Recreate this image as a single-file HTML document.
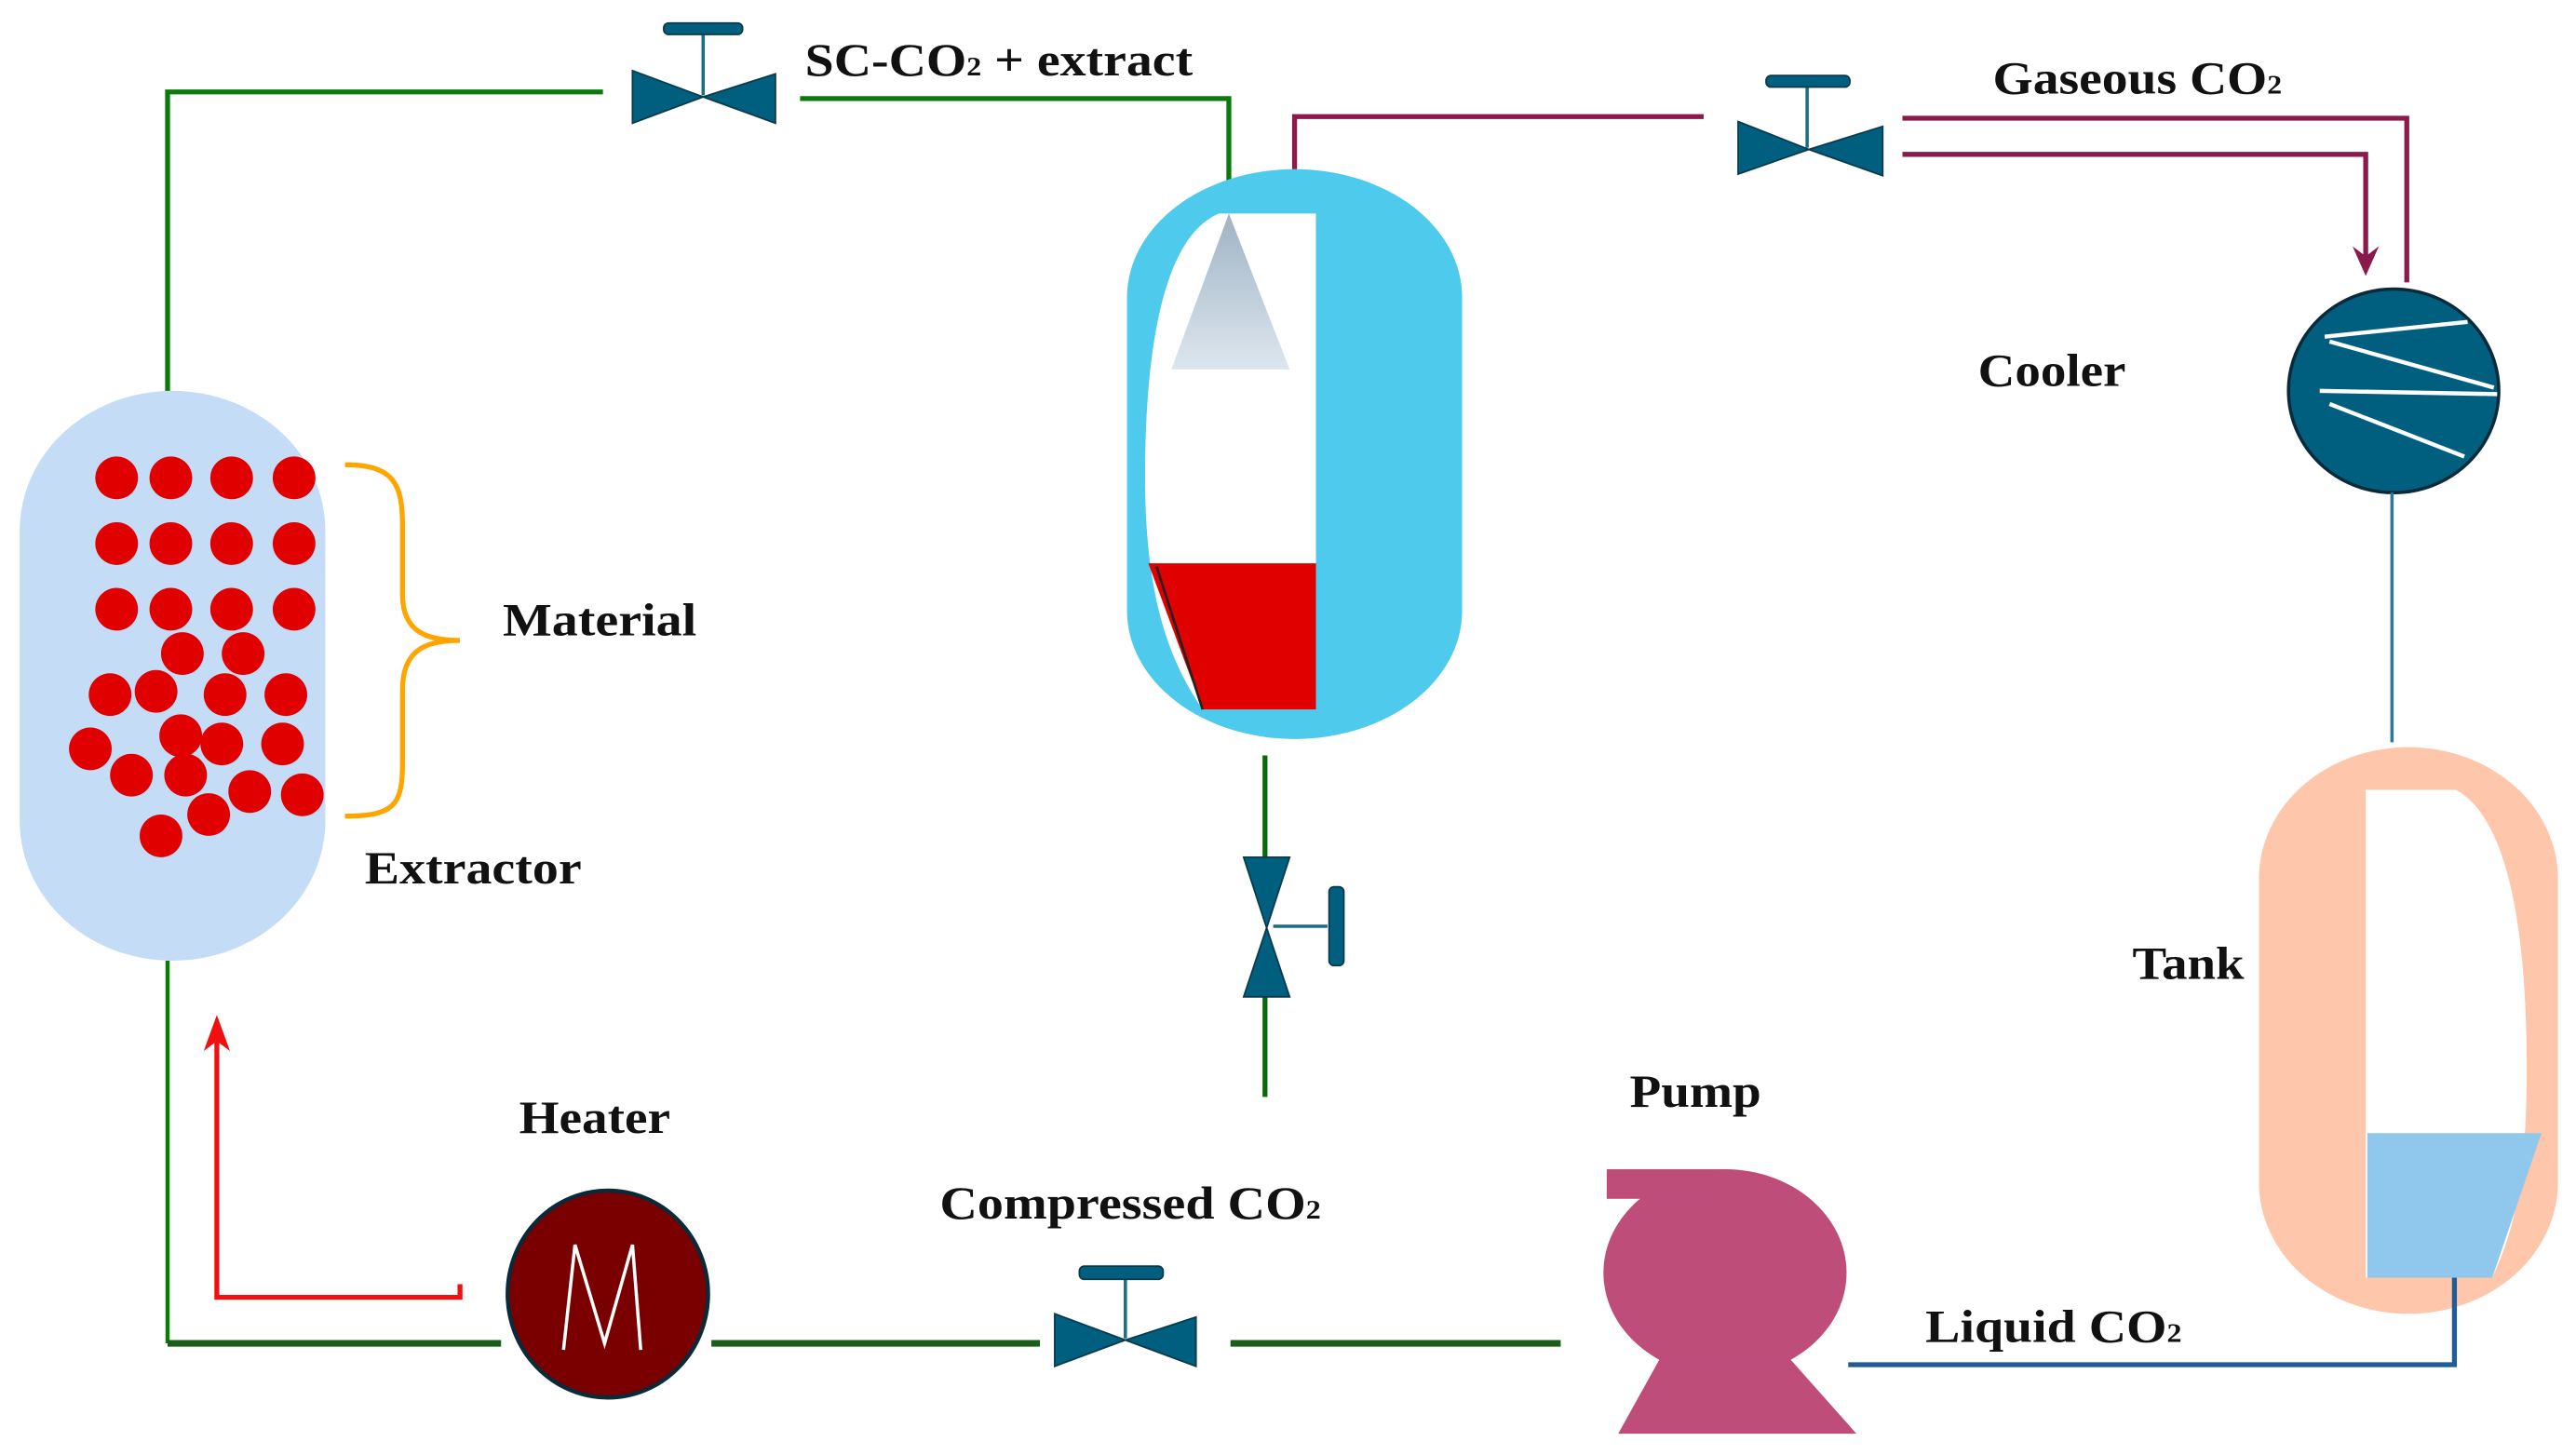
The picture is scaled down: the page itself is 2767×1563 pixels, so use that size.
<!DOCTYPE html>
<html><head><meta charset="utf-8"><style>html,body{margin:0;padding:0;background:#fff}svg{display:block}</style></head>
<body>
<svg width="2767" height="1563" viewBox="0 0 1568 886" preserveAspectRatio="none" xmlns="http://www.w3.org/2000/svg">
<defs>
<linearGradient id="cone" x1="0" y1="0" x2="0" y2="1"><stop offset="0" stop-color="#9fb3c4"/><stop offset="1" stop-color="#dde6ee"/></linearGradient>
<marker id="ar" markerWidth="10" markerHeight="14" refX="5" refY="2" orient="auto-start-reverse" markerUnits="userSpaceOnUse"></marker>
</defs>
<g font-family="Liberation Serif, serif" font-weight="bold" font-size="28" fill="#111">
<!-- Extractor -->
<rect x="12" y="238" width="186" height="347" rx="93" ry="85" fill="#c5dcf7"/>
<g fill="#e00000">
<circle cx="71" cy="291" r="13"/><circle cx="104" cy="291" r="13"/><circle cx="141" cy="291" r="13"/><circle cx="179" cy="291" r="13"/>
<circle cx="71" cy="331" r="13"/><circle cx="104" cy="331" r="13"/><circle cx="141" cy="331" r="13"/><circle cx="179" cy="331" r="13"/>
<circle cx="71" cy="371" r="13"/><circle cx="104" cy="371" r="13"/><circle cx="141" cy="371" r="13"/><circle cx="179" cy="371" r="13"/>
<circle cx="111" cy="398" r="13"/><circle cx="148" cy="398" r="13"/>
<circle cx="67" cy="423" r="13"/><circle cx="95" cy="421" r="13"/><circle cx="137" cy="423" r="13"/><circle cx="174" cy="423" r="13"/>
<circle cx="55" cy="456" r="13"/><circle cx="110" cy="448" r="13"/><circle cx="135" cy="453" r="13"/><circle cx="172" cy="453" r="13"/>
<circle cx="80" cy="472" r="13"/><circle cx="113" cy="472" r="13"/><circle cx="152" cy="482" r="13"/><circle cx="184" cy="484" r="13"/>
<circle cx="98" cy="509" r="13"/><circle cx="127" cy="496" r="13"/>
</g>
<path d="M210,283 C240,283 245,295 245,320 L245,362 C245,385 260,390 280,390 C260,390 245,395 245,420 L245,465 C245,490 240,497 210,497" fill="none" stroke="#ffa500" stroke-width="3"/>
<text x="306" y="387" textLength="118" lengthAdjust="spacingAndGlyphs">Material</text>
<text x="222" y="538" textLength="132" lengthAdjust="spacingAndGlyphs">Extractor</text>

<!-- top green lines -->
<polyline points="102,238 102,56 367,56" fill="none" stroke="#0a7a0a" stroke-width="3"/>
<polyline points="487,60 748,60 748,130" fill="none" stroke="#0a7a0a" stroke-width="3"/>
<!-- valve 1 -->
<line x1="428" y1="20" x2="428" y2="58" stroke="#1a6d8c" stroke-width="2"/>
<rect x="404" y="14" width="48" height="7" rx="3" fill="#005f7f" stroke="#0a3a4a"/>
<path d="M385,43 L385,75 L428,59 Z M472,45 L472,75 L428,59 Z" fill="#005f7f" stroke="#0a3a4a"/>
<text x="490" y="46" textLength="236" lengthAdjust="spacingAndGlyphs">SC-CO<tspan font-size="16">2</tspan> + extract</text>

<!-- separator -->
<rect x="686" y="103" width="204" height="347" rx="102" ry="78" fill="#4ecbec"/>
<path d="M801,130 L742,130 C706,145 697,220 697,290 C697,360 710,400 732,432 L801,432 Z" fill="#fff"/>
<path d="M699,343 L801,343 L801,432 L732,432 Z" fill="#e00000"/>
<line x1="704" y1="345" x2="732" y2="432" stroke="#222" stroke-width="1.5"/>
<path d="M748,130 L713,225 L785,225 Z" fill="url(#cone)"/>

<!-- purple lines -->
<polyline points="788,103 788,71 1037,71" fill="none" stroke="#8b1a4a" stroke-width="3"/>
<polyline points="1158,72 1465,72 1465,172" fill="none" stroke="#8b1a4a" stroke-width="3"/>
<polyline points="1158,94 1440,94 1440,160" fill="none" stroke="#8b1a4a" stroke-width="3"/>
<path d="M1432,150 L1440,168 L1448,150 L1440,156 Z" fill="#8b1a4a"/>
<!-- valve 2 -->
<line x1="1100" y1="52" x2="1100" y2="90" stroke="#1a6d8c" stroke-width="2"/>
<rect x="1075" y="46" width="51" height="7" rx="3" fill="#005f7f" stroke="#0a3a4a"/>
<path d="M1058,74 L1058,106 L1101,91 Z M1146,77 L1146,107 L1101,91 Z" fill="#005f7f" stroke="#0a3a4a"/>
<text x="1213" y="57" textLength="176" lengthAdjust="spacingAndGlyphs">Gaseous CO<tspan font-size="16">2</tspan></text>

<!-- cooler -->
<ellipse cx="1457" cy="238" rx="64" ry="62" fill="#005f7f" stroke="#0a2a3a" stroke-width="2"/>
<g stroke="#fff" stroke-width="2.5">
<line x1="1415" y1="205" x2="1502" y2="196"/><line x1="1418" y1="208" x2="1518" y2="236"/>
<line x1="1412" y1="238" x2="1520" y2="240"/><line x1="1418" y1="246" x2="1500" y2="278"/>
</g>
<text x="1204" y="235" textLength="90" lengthAdjust="spacingAndGlyphs">Cooler</text>
<line x1="1456" y1="300" x2="1456" y2="452" stroke="#2a7a9a" stroke-width="2"/>

<!-- tank -->
<rect x="1375" y="455" width="182" height="345" rx="91" ry="80" fill="#fec6aa"/>
<path d="M1440,481 L1495,481 C1530,500 1538,580 1538,650 C1538,720 1530,750 1517,778 L1440,778 Z" fill="#fff"/>
<path d="M1441,690 L1547,690 L1517,778 L1441,778 Z" fill="#8fc8ec"/>
<text x="1298" y="596" textLength="68" lengthAdjust="spacingAndGlyphs">Tank</text>
<polyline points="1494,778 1494,831 1125,831" fill="none" stroke="#1f5c99" stroke-width="3"/>
<text x="1172" y="817" textLength="156" lengthAdjust="spacingAndGlyphs">Liquid CO<tspan font-size="16">2</tspan></text>

<!-- pump -->
<g fill="#bf4d7a">
<ellipse cx="1050" cy="775" rx="74" ry="63"/>
<rect x="978" y="712" width="72" height="18"/>
<path d="M1010,828 L1090,828 L1130,873 L985,873 Z"/>
</g>
<text x="992" y="674" textLength="80" lengthAdjust="spacingAndGlyphs">Pump</text>

<!-- bottom green -->
<polyline points="102,585 102,818" fill="none" stroke="#0a7a0a" stroke-width="2.5"/>
<line x1="102" y1="818" x2="305" y2="818" stroke="#1a5e1a" stroke-width="4"/>
<line x1="433" y1="818" x2="633" y2="818" stroke="#1a5e1a" stroke-width="4"/>
<line x1="749" y1="818" x2="950" y2="818" stroke="#1a5e1a" stroke-width="4"/>
<!-- valve 3 -->
<line x1="685" y1="778" x2="685" y2="815" stroke="#1a6d8c" stroke-width="2"/>
<rect x="657" y="771" width="51" height="8" rx="3" fill="#005f7f" stroke="#0a3a4a"/>
<path d="M642,800 L642,832 L685,816 Z M728,802 L728,832 L685,816 Z" fill="#005f7f" stroke="#0a3a4a"/>
<text x="572" y="742" textLength="232" lengthAdjust="spacingAndGlyphs">Compressed CO<tspan font-size="16">2</tspan></text>

<!-- heater -->
<ellipse cx="370" cy="788" rx="61" ry="63" fill="#7a0000" stroke="#0a2a3a" stroke-width="2.5"/>
<polyline points="343,822 350,758 368,818 385,758 390,822" fill="none" stroke="#fff" stroke-width="2"/>
<text x="316" y="690" textLength="92" lengthAdjust="spacingAndGlyphs">Heater</text>

<!-- red arrow -->
<polyline points="280,782 280,790 132,790 132,630" fill="none" stroke="#f01010" stroke-width="3"/>
<path d="M124,640 L132,618 L140,640 L132,634 Z" fill="#f01010"/>

<!-- vertical valve -->
<line x1="770" y1="460" x2="770" y2="522" stroke="#0a6a0a" stroke-width="3"/>
<line x1="770" y1="607" x2="770" y2="668" stroke="#0a6a0a" stroke-width="3"/>
<path d="M757,522 L785,522 L771,565 Z M757,607 L785,607 L771,565 Z" fill="#005f7f" stroke="#0a3a4a"/>
<line x1="775" y1="564" x2="808" y2="564" stroke="#1a6d8c" stroke-width="2"/>
<rect x="809" y="540" width="9" height="48" rx="3" fill="#005f7f" stroke="#0a3a4a"/>
</g>
</svg>
</body></html>
